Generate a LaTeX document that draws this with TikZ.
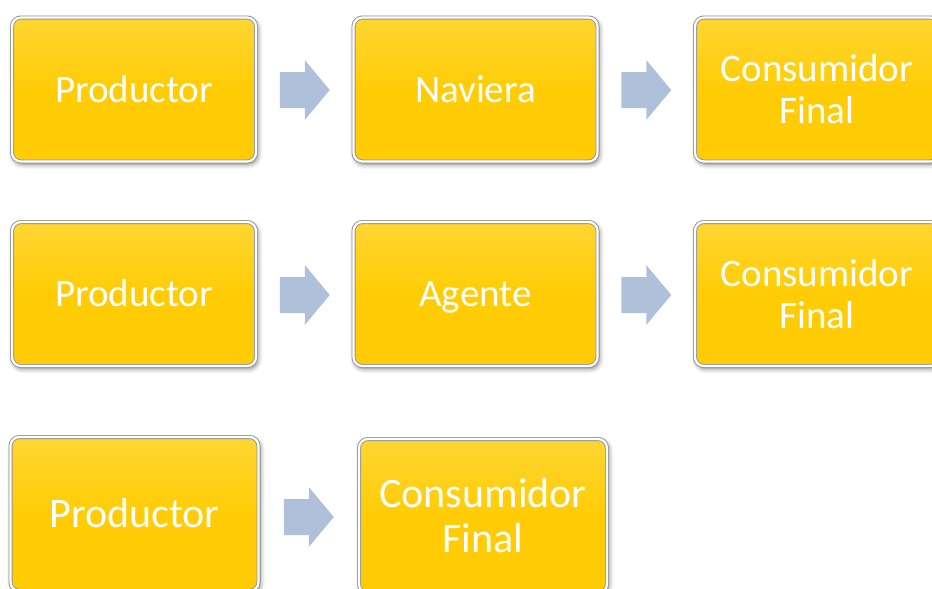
\documentclass[tikz,border=0pt]{standalone}
\usepackage{fontspec}
\setmainfont{Carlito}
\usetikzlibrary{shadows.blur}
\definecolor{boxgold}{HTML}{FFCC05}
\definecolor{boxtop}{HTML}{FFD633}
\definecolor{arrowfill}{HTML}{AFC0DB}
\newcommand{\boxline}[1]{\vphantom{dp}\raisebox{-2.5pt}[0pt][0pt]{#1}}
\tikzset{
  flowbox/.style={rectangle, rounded corners=9pt, minimum width=244pt, minimum height=144pt,
    inner sep=0pt, align=center, text=white, font=\fontsize{39}{42}\selectfont,
    top color=boxtop, bottom color=boxgold, middle color=boxgold,
    draw=gray!85, double=white, double distance=2.2pt, line width=0.9pt,
    blur shadow={shadow xshift=1.5pt, shadow yshift=-2.5pt, shadow blur radius=5pt, shadow opacity=55}},
  bigbox/.style={flowbox, minimum width=248pt, minimum height=154pt, font=\fontsize{42}{45}\selectfont},
  blockarrow/.pic={\fill[arrowfill] (-25,-18) -- (0,-18) -- (0,-30) -- (25,0) -- (0,30) -- (0,18) -- (-25,18) -- cycle;}
}
\begin{document}
\begin{tikzpicture}[x=1pt,y=-1pt]
\useasboundingbox (0,0) rectangle (932,589);
\clip (0,0) rectangle (932,589);
% row 1
\node[flowbox] (p1) at (134,89.5) {\boxline{Productor}};
\node[flowbox] (n1) at (475.5,89.5) {\boxline{Naviera}};
\node[flowbox] (c1) at (817,89.5) {Consumidor\\Final};
% row 2
\node[flowbox] (p2) at (134,294) {\boxline{Productor}};
\node[flowbox] (g2) at (475.5,294) {\boxline{Agente}};
\node[flowbox] (c2) at (817,294) {Consumidor\\Final};
% row 3
\node[bigbox] (p3) at (134.5,514) {\boxline{Productor}};
\node[bigbox] (c3) at (483,516) {Consumidor\\Final};
% arrows
\path (p1) -- (n1) coordinate[midway] (a1);
\path (n1) -- (c1) coordinate[midway] (a2);
\path (p2) -- (g2) coordinate[midway] (a3);
\path (g2) -- (c2) coordinate[midway] (a4);
\path (p3) -- (c3) coordinate[midway] (a5);
\pic at ([yshift=-0.5pt]a1) {blockarrow};
\pic at ([yshift=-0.5pt]a2) {blockarrow};
\pic at ([yshift=-1pt]a3) {blockarrow};
\pic at ([yshift=-1pt]a4) {blockarrow};
\pic at ([yshift=-2pt]a5) {blockarrow};
\end{tikzpicture}
\end{document}
